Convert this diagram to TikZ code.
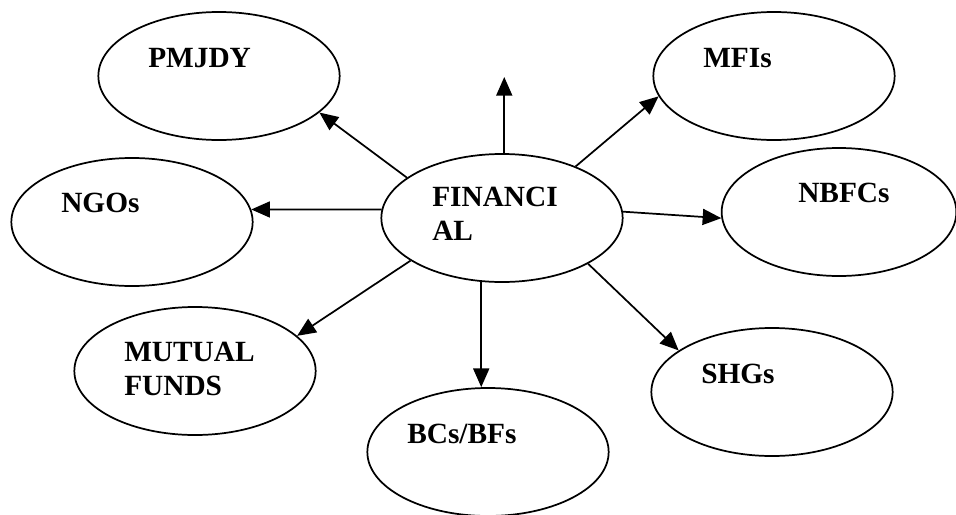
\documentclass[tikz,border=0pt]{standalone}
\usepackage{fontspec}
\setmainfont{Liberation Serif}
\usetikzlibrary{arrows.meta,shapes.geometric}
\tikzset{
>={Triangle[length=14pt,width=12pt]},
main node/.style={ellipse,draw,line width=1.3pt,minimum width=181pt,minimum height=96pt,inner sep=0pt},
freccia/.style={->,line width=1.3pt},
testo/.style={anchor=base west,inner sep=0pt,align=left,font=\fontsize{22}{25}\selectfont\bfseries}}

\begin{document}
\begin{tikzpicture}[x=0.75pt,y=-0.75pt]

\useasboundingbox (0,0) rectangle (956,514);

\node[main node] (fin) at (502,218) {};
\node[main node] (pmjdy) at (219,76) {};
\node[main node] (mfi) at (774,76) {};
\node[main node] (ngo) at (132,222) {};
\node[main node,minimum width=176pt] (nbfc) at (839,212) {};
\node[main node] (mf) at (195,371) {};
\node[main node] (bc) at (488,452) {};
\node[main node] (shg) at (772,392) {};
\coordinate (su) at (fin.88 |- 0,77);
\coordinate (giu) at (fin.252 |- bc.north);

% testi (base = ultima riga)
\node[testo] (fin-t) at (432,240) {FINANCI\\AL};
\node[testo] (pmjdy-t) at (148,67) {PMJDY};
\node[testo] (mfi-t) at (703,67) {MFIs};
\node[testo] (ngo-t) at (61,212) {NGOs};
\node[testo] (nbfc-t) at (798,202) {NBFCs};
\node[testo] (mf-t) at (124,395) {MUTUAL\\FUNDS};
\node[testo] (bc-t) at (407,443) {BCs/BFs};
\node[testo] (shg-t) at (701,383) {SHGs};

\path[freccia] (fin.157) edge (pmjdy.-20);
\path[freccia] (fin.88) edge (su);
\path[freccia] (fin.35) edge (mfi.190);
\path[freccia] (fin.176) edge (ngo.6);
\path[freccia] (fin.3) edge (nbfc.183);
\path[freccia] (fin.205) edge (mf.19);
\path[freccia] (fin.252) edge (giu);
\path[freccia] (fin.-28) edge (shg.156);

\end{tikzpicture}
\end{document}
